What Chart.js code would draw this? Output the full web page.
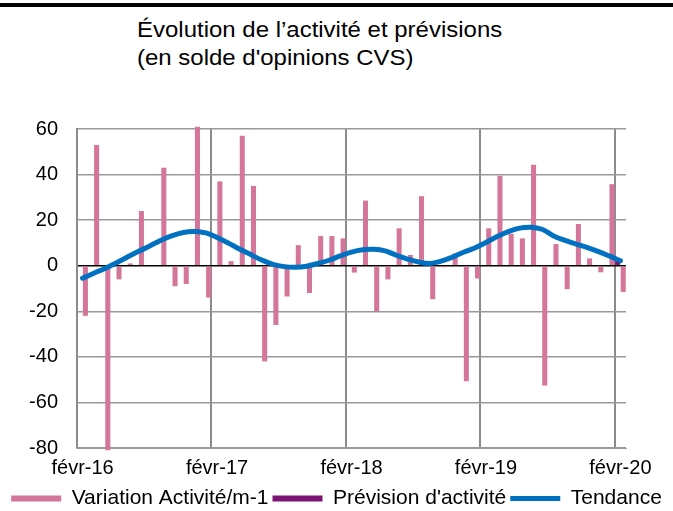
<!DOCTYPE html>
<html lang="fr">
<head>
  <meta charset="UTF-8" />
  <title>Évolution de l'activité et prévisions</title>
  <script src="https://cdn.jsdelivr.net/npm/chart.js"></script>
  <style>
    body { margin: 0; background: #fff; }
    .cadre { position: relative; width: 673px; height: 511px; overflow: hidden; font-family: "Liberation Sans", Arial, sans-serif; }
    .filet { position: absolute; left: 0; top: 3px; width: 673px; height: 4px; background: #000; }
    .titre {
      position: absolute; left: 137px; top: 16px;
      font-size: 22px; line-height: 28px; color: #000;
      transform: scaleX(1.09); transform-origin: left top;
      white-space: nowrap;
    }
    canvas { position: absolute; left: 0; top: 0; }
  </style>
</head>
<body>
  <div class="cadre">
    <div class="filet"></div>
    <div class="titre">Évolution de l’activité et prévisions<br>(en solde d'opinions CVS)</div>
    <canvas id="graphique" width="673" height="511"></canvas>
  </div>

  <script>
    // mois de févr-16 à févr-20
    const nomsMois = ['févr', 'mars', 'avr', 'mai', 'juin', 'juil', 'août', 'sept', 'oct', 'nov', 'déc', 'janv'];
    const mois = [];
    for (let i = 0; i < 49; i++) {
      const annee = 16 + Math.floor((i + 1) / 12);
      mois.push(nomsMois[i % 12] + '-' + annee);
    }

    const variation = [
      -22, 53, -81, -6, 1, 24, -0.5, 43, -9, -8, 61, -14,
      37, 2, 57, 35, -42, -26, -13.5, 9, -12, 13, 13, 12,
      -3, 28.6, -20, -6, 16.4, 4.7, 30.5, -14.7, -0.7, 5.4, -50.7, -5.6,
      16.4, 39.4, 14, 12, 44.3, -52.6, 9.5, -10.3, 18.3, 3.2, -2.9, 35.8, -11.5
    ];
    const previsionMois = ['févr-20'];
    const previsionValeurs = [2];
    const tendance = [
      -5.5, -3.3, -1.2, 1.2, 3.8, 6.3, 8.7, 11.2, 13.2, 14.6, 15.0, 14.4,
      12.4, 10.0, 7.3, 4.9, 2.5, 0.6, -0.4, -0.7, -0.2, 1.0, 2.4, 4.3,
      6.0, 7.0, 7.2, 6.5, 4.6, 2.9, 1.6, 1.0, 2.0, 3.8, 5.9, 7.8,
      10.2, 12.8, 15.0, 16.5, 16.9, 16.0, 13.2, 11.2, 9.6, 8.1, 6.3, 4.3, 2.2
    ];
    const graduationsY = [-80, -60, -40, -20, 0, 20, 40, 60];

    const police = { family: '"Liberation Sans", Arial, sans-serif', size: 20 };

    const ctx = document.getElementById('graphique').getContext('2d');
    new Chart(ctx, {
      type: 'bar',
      data: {
        labels: mois,
        datasets: [
          {
            label: 'Variation Activité/m-1',
            data: variation,
            backgroundColor: '#D4759A',
            borderWidth: 0,
            categoryPercentage: 1,
            barPercentage: 0.9,
            pointStyle: 'rect',
            clip: false,
            order: 2
          },
          {
            label: "Prévision d'activité",
            data: previsionMois.map((m, i) => ({ x: m, y: previsionValeurs[i] })),
            backgroundColor: '#7B1372',
            borderWidth: 0,
            categoryPercentage: 1,
            barPercentage: 0.9,
            pointStyle: 'rect',
            order: 1
          },
          {
            type: 'line',
            label: 'Tendance',
            data: tendance,
            borderColor: '#0070C0',
            backgroundColor: '#0070C0',
            borderWidth: 5,
            pointRadius: 0,
            tension: 0.4,
            pointStyle: 'line',
            borderCapStyle: 'round',
            order: 0
          }
        ]
      },
      options: {
        responsive: false,
        animation: false,
        layout: { padding: { top: 129, right: 0, left: 0, bottom: -8 } },
        plugins: {
          tooltip: { enabled: false },
          legend: {
            position: 'bottom',
            labels: {
              color: '#000',
              font: { family: police.family, size: 21 },
              usePointStyle: true,
              pointStyleWidth: 50,
              boxHeight: 6,
              padding: 4,
              sort: (a, b) => a.datasetIndex - b.datasetIndex
            }
          }
        },
        scales: {
          x: {
            grid: {
              drawTicks: false,
              lineWidth: 2,
              color: c => (c.index % 12 === 0 && c.index <= 48) ? '#8c8c8c' : 'rgba(0,0,0,0)'
            },
            border: { display: true, color: '#999', width: 1 },
            ticks: {
              autoSkip: false,
              maxRotation: 0,
              color: '#000',
              font: police,
              padding: 8,
              callback: function (v, i) { return i % 12 === 0 ? this.getLabelForValue(v) : ''; }
            },
            afterFit: s => { s.height = 36; }
          },
          y: {
            min: -80,
            max: 60,
            afterBuildTicks: s => { s.ticks = graduationsY.map(v => ({ value: v })); },
            grid: {
              drawTicks: false,
              lineWidth: 1.5,
              color: c => c.tick && c.tick.value === 0 ? '#000' : '#999'
            },
            border: { display: true, color: '#8c8c8c', width: 2 },
            ticks: { color: '#000', font: police, padding: 19 },
            afterFit: s => { s.width = 77; }
          },
          marge: {
            type: 'linear',
            position: 'right',
            display: true,
            grid: { display: false },
            border: { display: false },
            ticks: { display: false },
            afterFit: s => { s.width = 47; }
          }
        }
      }
    });
  </script>
</body>
</html>
